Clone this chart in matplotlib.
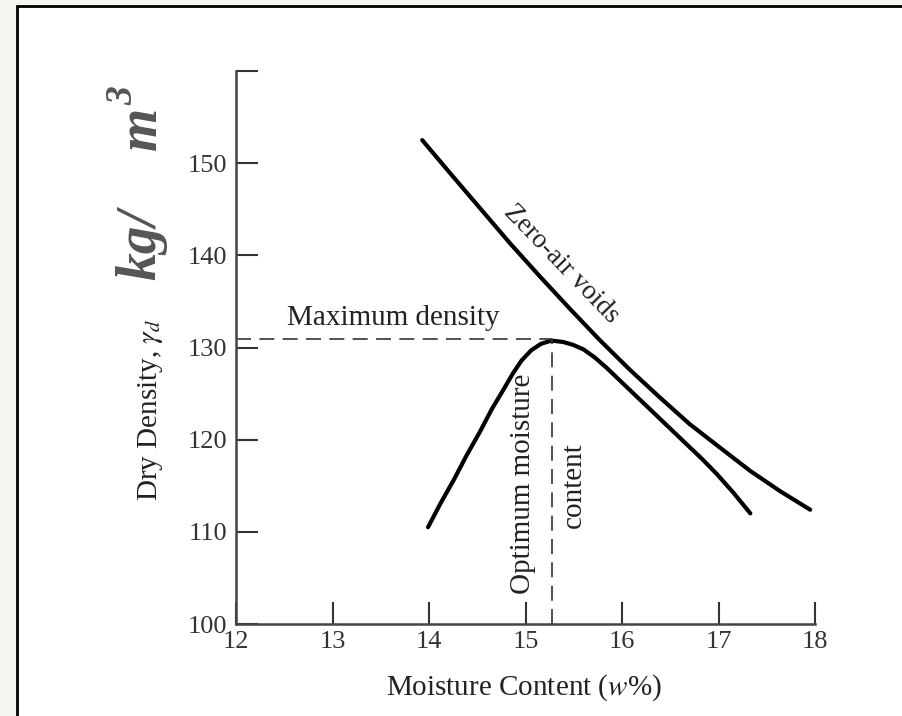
import matplotlib
matplotlib.use('Agg')
import matplotlib.pyplot as plt
from matplotlib.patches import Rectangle

moisture_zav = [13.93, 14.22, 14.53, 14.84, 15.15, 15.46, 15.77, 16.08, 16.39, 16.70, 17.02, 17.33, 17.64, 17.95]
density_zav = [152.5, 148.9, 145.1, 141.3, 137.7, 134.2, 130.8, 127.6, 124.6, 121.7, 119.1, 116.6, 114.4, 112.4]

moisture_cmp = [13.99, 14.12, 14.26, 14.39, 14.53, 14.65, 14.77, 14.87, 14.96, 15.06, 15.16, 15.27,
                15.39, 15.49, 15.60, 15.72, 15.84, 15.98, 16.11, 16.26, 16.39, 16.53, 16.67,
                16.83, 16.98, 17.15, 17.33]
density_cmp = [110.5, 113.1, 115.7, 118.3, 120.9, 123.3, 125.4, 127.2, 128.6, 129.7, 130.4, 130.75,
               130.6, 130.3, 129.8, 128.9, 127.8, 126.4, 125.1, 123.6, 122.3, 120.9, 119.5,
               117.9, 116.3, 114.3, 112.0]

max_density = 130.9
opt_moisture = 15.27

x_ticks = [12, 13, 14, 15, 16, 17, 18]
y_ticks = [100, 110, 120, 130, 140, 150, 160]
y_tick_labels = ['100', '110', '120', '130', '140', '150', '']

W, H = 903, 716
serif = 'Liberation Serif'
plt.rcParams['mathtext.fontset'] = 'stix'

fig = plt.figure(figsize=(W / 100, H / 100), dpi=100, facecolor='#f4f5ee')

def px(x, y):
    return x / W, 1 - y / H

# white panel with black frame
panel = Rectangle((17 / W, -0.1), 1.2, 1.1 - 6 / H, transform=fig.transFigure,
                  facecolor='white', edgecolor='black', lw=2, zorder=-10)
fig.add_artist(panel)

ax = fig.add_axes([236 / W, 1 - 624 / H, (815 - 236) / W, (624 - 71) / H])
ax.set_facecolor('none')
ax.set_xlim(12, 18)
ax.set_ylim(100, 160)

ax.plot(moisture_zav, density_zav, color='black', lw=3, solid_capstyle='round', solid_joinstyle='round')
ax.plot(moisture_cmp, density_cmp, color='black', lw=3, solid_capstyle='round', solid_joinstyle='round')

ax.plot([12, opt_moisture], [max_density, max_density], color='#333333', lw=1.2, dashes=(9, 5))
ax.plot([opt_moisture, opt_moisture], [100, max_density], color='#333333', lw=1.2, dashes=(9, 5))

for s in ['top', 'right']:
    ax.spines[s].set_visible(False)
for s in ['left', 'bottom']:
    ax.spines[s].set_color('#444444')
    ax.spines[s].set_linewidth(1.8)

ax.set_xticks(x_ticks)
ax.set_xticklabels([str(v) for v in x_ticks])
ax.set_yticks(y_ticks)
ax.set_yticklabels(y_tick_labels)
ax.tick_params(direction='in', length=16, width=1.5, color='#333333',
               labelsize=19, labelcolor='#333333')
ax.tick_params(axis='x', pad=5)
ax.tick_params(axis='y', pad=6)
for lab in ax.get_xticklabels() + ax.get_yticklabels():
    lab.set_family(serif)

ax.text(12.53, 132.4, 'Maximum density', family=serif, fontsize=21, color='#222222',
        ha='left', va='baseline')
ax.text(15.375, 139.1, 'Zero-air voids', family=serif, fontsize=19.5, color='#222222',
        rotation=-46, rotation_mode='anchor', ha='center', va='center')
ax.text(14.97, 115.2, 'Optimum moisture', family=serif, fontsize=21, color='#222222',
        rotation=90, ha='center', va='center')
ax.text(15.50, 115.1, 'content', family=serif, fontsize=21, color='#222222',
        rotation=90, ha='center', va='center')

fig.text(*px(524, 688), r'Moisture Content ($w$%)', family=serif, fontsize=21,
         color='#222222', ha='center', va='center')
fig.text(*px(151, 410), r'Dry Density, $\gamma_d$', family=serif, fontsize=21,
         color='#222222', ha='center', va='center', rotation=90)

# big unit label
fig.text(*px(141, 245), 'kg/', family=serif, fontsize=40, fontweight='bold',
         fontstyle='italic', color='#555555', ha='center', va='center', rotation=90)
fig.text(*px(142, 128), 'm', family=serif, fontsize=40, fontweight='bold',
         fontstyle='italic', color='#555555', ha='center', va='center', rotation=90)
fig.text(*px(123, 96), '3', family=serif, fontsize=27, fontweight='bold',
         fontstyle='italic', color='#555555', ha='center', va='center', rotation=90)

fig.savefig('out.png', dpi=100, facecolor=fig.get_facecolor())
